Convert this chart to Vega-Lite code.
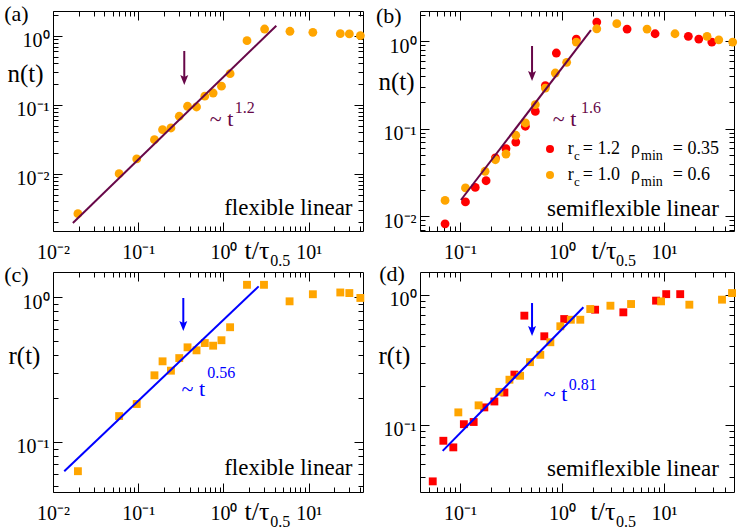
{
"$schema": "https://vega.github.io/schema/vega-lite/v6.json",
"background": "white",
"padding": {"left": 3, "top": 2, "right": 2, "bottom": 2},
"config": {
  "view": {"stroke": "#000", "strokeWidth": 1},
  "axis": {"labelFont": "Liberation Serif", "titleFont": "Liberation Serif", "labelColor": "#000", "titleColor": "#000", "tickColor": "#000", "tickWidth": 1, "domain": false, "grid": false, "titleFontWeight": "normal", "labelFlush": false, "labelOverlap": false, "titlePadding": 0},
  "mark": {"font": "Liberation Serif"},
  "text": {"font": "Liberation Serif"},
  "legend": {"labelFont": "Liberation Serif"}
},
"datasets": {
  "a": [{"t":0.0196,"n":0.00266},{"t":0.0597,"n":0.0101},{"t":0.096,"n":0.0165},{"t":0.155,"n":0.0314},{"t":0.193,"n":0.0438},{"t":0.242,"n":0.0464},{"t":0.303,"n":0.0686},{"t":0.379,"n":0.0957},{"t":0.483,"n":0.0935},{"t":0.604,"n":0.134},{"t":0.757,"n":0.149},{"t":0.948,"n":0.187},{"t":1.197,"n":0.284},{"t":1.89,"n":0.855},{"t":3.04,"n":1.26},{"t":6.03,"n":1.17},{"t":11.2,"n":1.13},{"t":23.5,"n":1.08},{"t":30.0,"n":1.07},{"t":40.4,"n":1.01}],
  "b": [{"s":"rc=1.2","t":0.0713,"n":0.0082},{"s":"rc=1.2","t":0.113,"n":0.0146},{"s":"rc=1.2","t":0.141,"n":0.0214},{"s":"rc=1.2","t":0.18,"n":0.0255},{"s":"rc=1.2","t":0.222,"n":0.0464},{"s":"rc=1.2","t":0.282,"n":0.0593},{"s":"rc=1.2","t":0.352,"n":0.0706},{"s":"rc=1.2","t":0.437,"n":0.107},{"s":"rc=1.2","t":0.547,"n":0.158},{"s":"rc=1.2","t":0.686,"n":0.311},{"s":"rc=1.2","t":0.879,"n":0.735},{"s":"rc=1.2","t":1.38,"n":1.06},{"s":"rc=1.2","t":2.19,"n":1.66},{"s":"rc=1.2","t":4.34,"n":1.38},{"s":"rc=1.2","t":8.17,"n":1.22},{"s":"rc=1.2","t":17.3,"n":1.14},{"s":"rc=1.2","t":21.9,"n":1.06},{"s":"rc=1.2","t":29.4,"n":0.98},
        {"s":"rc=1.0","t":0.0713,"n":0.0152},{"s":"rc=1.0","t":0.113,"n":0.0211},{"s":"rc=1.0","t":0.176,"n":0.0327},{"s":"rc=1.0","t":0.222,"n":0.0443},{"s":"rc=1.0","t":0.282,"n":0.0515},{"s":"rc=1.0","t":0.352,"n":0.0843},{"s":"rc=1.0","t":0.437,"n":0.1165},{"s":"rc=1.0","t":0.547,"n":0.189},{"s":"rc=1.0","t":0.686,"n":0.292},{"s":"rc=1.0","t":0.859,"n":0.434},{"s":"rc=1.0","t":1.11,"n":0.575},{"s":"rc=1.0","t":1.38,"n":0.98},{"s":"rc=1.0","t":2.19,"n":1.39},{"s":"rc=1.0","t":3.44,"n":1.59},{"s":"rc=1.0","t":6.81,"n":1.38},{"s":"rc=1.0","t":12.8,"n":1.22},{"s":"rc=1.0","t":26.4,"n":1.14},{"s":"rc=1.0","t":34.4,"n":1.04},{"s":"rc=1.0","t":47.1,"n":0.98}],
  "c": [{"t":0.0196,"r":0.0628},{"t":0.0597,"r":0.151},{"t":0.096,"r":0.183},{"t":0.155,"r":0.289},{"t":0.193,"r":0.361},{"t":0.242,"r":0.311},{"t":0.303,"r":0.38},{"t":0.379,"r":0.451},{"t":0.483,"r":0.43},{"t":0.604,"r":0.483},{"t":0.757,"r":0.463},{"t":0.948,"r":0.505},{"t":1.197,"r":0.621},{"t":1.89,"r":1.22},{"t":2.99,"r":1.22},{"t":5.97,"r":0.938},{"t":11.2,"r":1.05},{"t":23.5,"r":1.08},{"t":30.0,"r":1.07},{"t":40.4,"r":0.99}],
  "d": [{"s":"rc=1.2","t":0.054,"r":0.0367},{"s":"rc=1.2","t":0.0686,"r":0.0753},{"s":"rc=1.2","t":0.0859,"r":0.067},{"s":"rc=1.2","t":0.109,"r":0.101},{"s":"rc=1.2","t":0.136,"r":0.105},{"s":"rc=1.2","t":0.173,"r":0.136},{"s":"rc=1.2","t":0.217,"r":0.151},{"s":"rc=1.2","t":0.272,"r":0.177},{"s":"rc=1.2","t":0.341,"r":0.243},{"s":"rc=1.2","t":0.427,"r":0.69},{"s":"rc=1.2","t":0.67,"r":0.479},{"s":"rc=1.2","t":1.05,"r":0.65},{"s":"rc=1.2","t":2.11,"r":0.767},{"s":"rc=1.2","t":3.99,"r":0.732},{"s":"rc=1.2","t":8.35,"r":0.9},{"s":"rc=1.2","t":10.5,"r":1.01},{"s":"rc=1.2","t":14.4,"r":1.01},
        {"s":"rc=1.0","t":0.0962,"r":0.1245},{"s":"rc=1.0","t":0.152,"r":0.141},{"s":"rc=1.0","t":0.243,"r":0.179},{"s":"rc=1.0","t":0.305,"r":0.222},{"s":"rc=1.0","t":0.388,"r":0.238},{"s":"rc=1.0","t":0.485,"r":0.303},{"s":"rc=1.0","t":0.612,"r":0.345},{"s":"rc=1.0","t":0.768,"r":0.431},{"s":"rc=1.0","t":0.962,"r":0.572},{"s":"rc=1.0","t":1.22,"r":0.642},{"s":"rc=1.0","t":1.51,"r":0.642},{"s":"rc=1.0","t":1.89,"r":0.776},{"s":"rc=1.0","t":2.98,"r":0.823},{"s":"rc=1.0","t":4.75,"r":0.848},{"s":"rc=1.0","t":9.35,"r":0.889},{"s":"rc=1.0","t":17.7,"r":0.838},{"s":"rc=1.0","t":37.0,"r":0.916},{"s":"rc=1.0","t":46.4,"r":1.03}],
  "fa": [{"t":0.0171,"n":0.00195},{"t":4.17,"n":1.41}],
  "fb": [{"t":0.102,"n":0.01535},{"t":1.92,"n":1.34}],
  "fc": [{"t":0.01355,"r":0.0628},{"t":2.59,"r":1.19}],
  "fd": [{"t":0.0676,"r":0.063},{"t":1.62,"r":0.8}]
},
"columns": 2,
"spacing": {"row": 41, "column": 57},
"bounds": "flush",
"resolve": {"scale": {"color": "independent"}, "legend": {"color": "independent"}},
"concat": [
{
  "width": 310, "height": 220,
  "resolve": {"axis": {"x": "independent", "y": "independent"}},
  "layer": [
    {"data": {"name": "a"}, "mark": {"type": "circle", "size": 78, "color": "#ffa500", "opacity": 1},
     "encoding": {
       "x": {"field": "t", "type": "quantitative", "scale": {"type": "log", "domain": [0.01, 43.4], "nice": false},
             "axis": {"orient": "bottom", "values": [0.01, 0.1, 1, 10], "tickSize": -9, "labelExpr": "datum.value < 0.05 ? '10⁻²' : datum.value < 0.5 ? '10⁻¹' : datum.value < 5 ? '10⁰' : '10¹'", "labelFontSize": 20, "labelBaseline": "alphabetic", "labelAlign": "center", "labelPadding": 36, "title": "t/τ", "titleFontSize": 26, "titleX": 191, "titleY": 27, "titleAlign": "left", "titleBaseline": "alphabetic", "titleAnchor": "start"}},
       "y": {"field": "n", "type": "quantitative", "scale": {"type": "log", "domain": [0.00149, 2.3], "nice": false},
             "axis": {"orient": "left", "values": [0.01, 0.1, 1], "tickSize": -9, "labelExpr": "datum.value < 0.05 ? '10⁻²' : datum.value < 0.5 ? '10⁻¹' : datum.value < 5 ? '10⁰' : '10¹'", "labelFontSize": 20, "labelAlign": "right", "labelBaseline": "alphabetic", "labelOffset": 11, "labelPadding": 13, "title": "n(t)", "titleFontSize": 25, "titleAngle": 0, "titleX": -46, "titleY": 62, "titleAlign": "left", "titleBaseline": "middle"}}}},
    {"data": {"name": "fa"}, "mark": {"type": "line", "color": "#670748", "strokeWidth": 2},
     "encoding": {
       "x": {"field": "t", "type": "quantitative", "scale": {"type": "log", "domain": [0.01, 43.4], "nice": false},
             "axis": {"orient": "bottom", "values": [0.02,0.03,0.04,0.05,0.06,0.07,0.08,0.09,0.2,0.3,0.4,0.5,0.6,0.7,0.8,0.9,2,3,4,5,6,7,8,9,20,30,40], "tickSize": -5, "labels": false, "title": null}},
       "y": {"field": "n", "type": "quantitative", "scale": {"type": "log", "domain": [0.00149, 2.3], "nice": false},
             "axis": {"orient": "left", "values": [0.002,0.003,0.004,0.005,0.006,0.007,0.008,0.009,0.02,0.03,0.04,0.05,0.06,0.07,0.08,0.09,0.2,0.3,0.4,0.5,0.6,0.7,0.8,0.9,2], "tickSize": -5, "labels": false, "title": null}}}},
    {"data": {"values": [{"label": "arrow"}]}, "mark": {"type": "rule", "color": "#670748", "strokeWidth": 2},
     "encoding": {
       "x": {"datum": 0.347, "type": "quantitative", "scale": {"type": "log", "domain": [0.01, 43.4], "nice": false},
             "axis": {"orient": "top", "values": [0.01, 0.1, 1, 10], "tickSize": -9, "labels": false, "title": null}},
       "y": {"datum": 0.606, "type": "quantitative", "scale": {"type": "log", "domain": [0.00149, 2.3], "nice": false},
             "axis": {"orient": "right", "values": [0.01, 0.1, 1], "tickSize": -9, "labels": false, "title": null}},
       "y2": {"datum": 0.23}}},
    {"data": {"values": [{"label": "arrowhead"}]}, "mark": {"type": "point", "shape": "M0,0L-0.4,-1L0,-0.8L0.4,-1Z", "size": 400, "filled": true, "color": "#670748", "opacity": 1, "strokeWidth": 0},
     "encoding": {
       "x": {"datum": 0.347, "type": "quantitative", "scale": {"type": "log", "domain": [0.01, 43.4], "nice": false},
             "axis": {"orient": "top", "values": [0.02,0.03,0.04,0.05,0.06,0.07,0.08,0.09,0.2,0.3,0.4,0.5,0.6,0.7,0.8,0.9,2,3,4,5,6,7,8,9,20,30,40], "tickSize": -5, "labels": false, "title": null}},
       "y": {"datum": 0.195, "type": "quantitative", "scale": {"type": "log", "domain": [0.00149, 2.3], "nice": false},
             "axis": {"orient": "right", "values": [0.002,0.003,0.004,0.005,0.006,0.007,0.008,0.009,0.02,0.03,0.04,0.05,0.06,0.07,0.08,0.09,0.2,0.3,0.4,0.5,0.6,0.7,0.8,0.9,2], "tickSize": -5, "labels": false, "title": null}}}},
    {"data": {"values": [{"label": "~ t"}]}, "mark": {"type": "text", "font": "Liberation Serif", "fontSize": 22, "color": "#670748", "align": "left", "baseline": "alphabetic"},
     "encoding": {"x": {"datum": 0.692, "type": "quantitative", "scale": {"type": "log", "domain": [0.01, 43.4], "nice": false}, "axis": null},
                  "y": {"datum": 0.0501, "type": "quantitative", "scale": {"type": "log", "domain": [0.00149, 2.3], "nice": false}, "axis": null},
                  "text": {"field": "label"}}},
    {"data": {"values": [{"label": "1.2"}]}, "mark": {"type": "text", "font": "Liberation Serif", "fontSize": 16, "color": "#670748", "align": "left", "baseline": "alphabetic"},
     "encoding": {"x": {"datum": 1.356, "type": "quantitative", "scale": {"type": "log", "domain": [0.01, 43.4], "nice": false}, "axis": null},
                  "y": {"datum": 0.0766, "type": "quantitative", "scale": {"type": "log", "domain": [0.00149, 2.3], "nice": false}, "axis": null},
                  "text": {"field": "label"}}},
    {"data": {"values": [{"label": "flexible linear"}]}, "mark": {"type": "text", "font": "Liberation Serif", "fontSize": 23, "color": "#000", "align": "left", "baseline": "alphabetic"},
     "encoding": {"x": {"datum": 1.02, "type": "quantitative", "scale": {"type": "log", "domain": [0.01, 43.4], "nice": false}, "axis": null},
                  "y": {"datum": 0.00257, "type": "quantitative", "scale": {"type": "log", "domain": [0.00149, 2.3], "nice": false}, "axis": null},
                  "text": {"field": "label"}}},
    {"data": {"values": [{"label": "(a)"}]}, "mark": {"type": "text", "font": "Liberation Serif", "fontSize": 22, "color": "#000", "align": "left", "baseline": "alphabetic"},
     "encoding": {"x": {"datum": 0.00268, "type": "quantitative", "scale": {"type": "log", "domain": [0.01, 43.4], "nice": false}, "axis": null},
                  "y": {"datum": 1.633, "type": "quantitative", "scale": {"type": "log", "domain": [0.00149, 2.3], "nice": false}, "axis": null},
                  "text": {"field": "label"}}},
    {"data": {"values": [{"label": "0.5"}]}, "mark": {"type": "text", "font": "Liberation Serif", "fontSize": 16, "color": "#000", "align": "left", "baseline": "alphabetic", "dy": 35},
     "encoding": {"x": {"datum": 3.55, "type": "quantitative", "scale": {"type": "log", "domain": [0.01, 43.4], "nice": false}, "axis": null},
                  "y": {"datum": 0.00149, "type": "quantitative", "scale": {"type": "log", "domain": [0.00149, 2.3], "nice": false}, "axis": null},
                  "text": {"field": "label"}}}
  ]
},
{
  "width": 314, "height": 220,
  "resolve": {"axis": {"x": "independent", "y": "independent"}},
  "layer": [
    {"data": {"name": "b"}, "mark": {"type": "circle", "size": 78, "opacity": 1},
     "encoding": {
       "x": {"field": "t", "type": "quantitative", "scale": {"type": "log", "domain": [0.0405, 48.5], "nice": false},
             "axis": {"orient": "bottom", "values": [0.1, 1, 10], "tickSize": -9, "labelExpr": "datum.value < 0.05 ? '10⁻²' : datum.value < 0.5 ? '10⁻¹' : datum.value < 5 ? '10⁰' : '10¹'", "labelFontSize": 20, "labelBaseline": "alphabetic", "labelAlign": "center", "labelPadding": 36, "title": "t/τ", "titleFontSize": 26, "titleX": 171, "titleY": 27, "titleAlign": "left", "titleBaseline": "alphabetic", "titleAnchor": "start"}},
       "y": {"field": "n", "type": "quantitative", "scale": {"type": "log", "domain": [0.00679, 2.22], "nice": false},
             "axis": {"orient": "left", "values": [0.01, 0.1, 1], "tickSize": -9, "labelExpr": "datum.value < 0.05 ? '10⁻²' : datum.value < 0.5 ? '10⁻¹' : datum.value < 5 ? '10⁰' : '10¹'", "labelFontSize": 20, "labelAlign": "right", "labelBaseline": "alphabetic", "labelOffset": 11, "labelPadding": 13, "title": "n(t)", "titleFontSize": 25, "titleAngle": 0, "titleX": -42, "titleY": 70, "titleAlign": "left", "titleBaseline": "middle"}},
       "color": {"field": "s", "type": "nominal", "scale": {"domain": ["rc=1.2", "rc=1.0"], "range": ["#ff0000", "#ffa500"]},
                 "legend": {"orient": "none", "legendX": 126, "legendY": 134, "title": null, "labelExpr": "''", "labelFontSize": 1, "symbolType": "circle", "symbolSize": 64, "symbolStrokeWidth": 0, "symbolOpacity": 1, "rowPadding": 18, "padding": 0}}}},
    {"data": {"name": "fb"}, "mark": {"type": "line", "color": "#670748", "strokeWidth": 2},
     "encoding": {
       "x": {"field": "t", "type": "quantitative", "scale": {"type": "log", "domain": [0.0405, 48.5], "nice": false},
             "axis": {"orient": "bottom", "values": [0.05,0.06,0.07,0.08,0.09,0.2,0.3,0.4,0.5,0.6,0.7,0.8,0.9,2,3,4,5,6,7,8,9,20,30,40], "tickSize": -5, "labels": false, "title": null}},
       "y": {"field": "n", "type": "quantitative", "scale": {"type": "log", "domain": [0.00679, 2.22], "nice": false},
             "axis": {"orient": "left", "values": [0.007,0.008,0.009,0.02,0.03,0.04,0.05,0.06,0.07,0.08,0.09,0.2,0.3,0.4,0.5,0.6,0.7,0.8,0.9,2], "tickSize": -5, "labels": false, "title": null}}}},
    {"data": {"values": [{"label": "arrow"}]}, "mark": {"type": "rule", "color": "#670748", "strokeWidth": 2},
     "encoding": {
       "x": {"datum": 0.508, "type": "quantitative", "scale": {"type": "log", "domain": [0.0405, 48.5], "nice": false},
             "axis": {"orient": "top", "values": [0.1, 1, 10], "tickSize": -9, "labels": false, "title": null}},
       "y": {"datum": 0.884, "type": "quantitative", "scale": {"type": "log", "domain": [0.00679, 2.22], "nice": false},
             "axis": {"orient": "right", "values": [0.01, 0.1, 1], "tickSize": -9, "labels": false, "title": null}},
       "y2": {"datum": 0.401}}},
    {"data": {"values": [{"label": "arrowhead"}]}, "mark": {"type": "point", "shape": "M0,0L-0.4,-1L0,-0.8L0.4,-1Z", "size": 400, "filled": true, "color": "#670748", "opacity": 1, "strokeWidth": 0},
     "encoding": {
       "x": {"datum": 0.508, "type": "quantitative", "scale": {"type": "log", "domain": [0.0405, 48.5], "nice": false},
             "axis": {"orient": "top", "values": [0.05,0.06,0.07,0.08,0.09,0.2,0.3,0.4,0.5,0.6,0.7,0.8,0.9,2,3,4,5,6,7,8,9,20,30,40], "tickSize": -5, "labels": false, "title": null}},
       "y": {"datum": 0.352, "type": "quantitative", "scale": {"type": "log", "domain": [0.00679, 2.22], "nice": false},
             "axis": {"orient": "right", "values": [0.007,0.008,0.009,0.02,0.03,0.04,0.05,0.06,0.07,0.08,0.09,0.2,0.3,0.4,0.5,0.6,0.7,0.8,0.9,2], "tickSize": -5, "labels": false, "title": null}}}},
    {"data": {"values": [{"label": "~ t"}]}, "mark": {"type": "text", "font": "Liberation Serif", "fontSize": 22, "color": "#670748", "align": "left", "baseline": "alphabetic"},
     "encoding": {"x": {"datum": 0.811, "type": "quantitative", "scale": {"type": "log", "domain": [0.0405, 48.5], "nice": false}, "axis": null},
                  "y": {"datum": 0.1076, "type": "quantitative", "scale": {"type": "log", "domain": [0.00679, 2.22], "nice": false}, "axis": null},
                  "text": {"field": "label"}}},
    {"data": {"values": [{"label": "1.6"}]}, "mark": {"type": "text", "font": "Liberation Serif", "fontSize": 16, "color": "#670748", "align": "left", "baseline": "alphabetic"},
     "encoding": {"x": {"datum": 1.536, "type": "quantitative", "scale": {"type": "log", "domain": [0.0405, 48.5], "nice": false}, "axis": null},
                  "y": {"datum": 0.1516, "type": "quantitative", "scale": {"type": "log", "domain": [0.00679, 2.22], "nice": false}, "axis": null},
                  "text": {"field": "label"}}},
    {"data": {"values": [{"label": "semiflexible linear"}]}, "mark": {"type": "text", "font": "Liberation Serif", "fontSize": 23, "color": "#000", "align": "left", "baseline": "alphabetic"},
     "encoding": {"x": {"datum": 0.713, "type": "quantitative", "scale": {"type": "log", "domain": [0.0405, 48.5], "nice": false}, "axis": null},
                  "y": {"datum": 0.01, "type": "quantitative", "scale": {"type": "log", "domain": [0.00679, 2.22], "nice": false}, "axis": null},
                  "text": {"field": "label"}}},
    {"data": {"values": [{"label": "(b)"}]}, "mark": {"type": "text", "font": "Liberation Serif", "fontSize": 22, "color": "#000", "align": "left", "baseline": "alphabetic"},
     "encoding": {"x": {"datum": 0.015, "type": "quantitative", "scale": {"type": "log", "domain": [0.0405, 48.5], "nice": false}, "axis": null},
                  "y": {"datum": 1.618, "type": "quantitative", "scale": {"type": "log", "domain": [0.00679, 2.22], "nice": false}, "axis": null},
                  "text": {"field": "label"}}},
    {"data": {"values": [{"label": "0.5"}]}, "mark": {"type": "text", "font": "Liberation Serif", "fontSize": 16, "color": "#000", "align": "left", "baseline": "alphabetic", "dy": 35},
     "encoding": {"x": {"datum": 3.38, "type": "quantitative", "scale": {"type": "log", "domain": [0.0405, 48.5], "nice": false}, "axis": null},
                  "y": {"datum": 0.00679, "type": "quantitative", "scale": {"type": "log", "domain": [0.00679, 2.22], "nice": false}, "axis": null},
                  "text": {"field": "label"}}},
    {"data": {"values": [{"label": "r"}]}, "mark": {"type": "text", "font": "Liberation Serif", "fontSize": 18, "color": "#000", "align": "left", "baseline": "alphabetic"},
     "encoding": {"x": {"datum": 1.137, "type": "quantitative", "scale": {"type": "log", "domain": [0.0405, 48.5], "nice": false}, "axis": null},
                  "y": {"datum": 0.0519, "type": "quantitative", "scale": {"type": "log", "domain": [0.00679, 2.22], "nice": false}, "axis": null},
                  "text": {"field": "label"}}},
    {"data": {"values": [{"label": "c"}]}, "mark": {"type": "text", "font": "Liberation Serif", "fontSize": 13, "color": "#000", "align": "left", "baseline": "alphabetic", "dy": 6},
     "encoding": {"x": {"datum": 1.311, "type": "quantitative", "scale": {"type": "log", "domain": [0.0405, 48.5], "nice": false}, "axis": null},
                  "y": {"datum": 0.0519, "type": "quantitative", "scale": {"type": "log", "domain": [0.00679, 2.22], "nice": false}, "axis": null},
                  "text": {"field": "label"}}},
    {"data": {"values": [{"label": "= 1.2"}]}, "mark": {"type": "text", "font": "Liberation Serif", "fontSize": 18, "color": "#000", "align": "left", "baseline": "alphabetic"},
     "encoding": {"x": {"datum": 1.596, "type": "quantitative", "scale": {"type": "log", "domain": [0.0405, 48.5], "nice": false}, "axis": null},
                  "y": {"datum": 0.0519, "type": "quantitative", "scale": {"type": "log", "domain": [0.00679, 2.22], "nice": false}, "axis": null},
                  "text": {"field": "label"}}},
    {"data": {"values": [{"label": "ρ"}]}, "mark": {"type": "text", "font": "Liberation Serif", "fontSize": 18, "color": "#000", "align": "left", "baseline": "alphabetic"},
     "encoding": {"x": {"datum": 4.75, "type": "quantitative", "scale": {"type": "log", "domain": [0.0405, 48.5], "nice": false}, "axis": null},
                  "y": {"datum": 0.0519, "type": "quantitative", "scale": {"type": "log", "domain": [0.00679, 2.22], "nice": false}, "axis": null},
                  "text": {"field": "label"}}},
    {"data": {"values": [{"label": "min"}]}, "mark": {"type": "text", "font": "Liberation Serif", "fontSize": 14, "color": "#000", "align": "left", "baseline": "alphabetic", "dy": 6},
     "encoding": {"x": {"datum": 5.95, "type": "quantitative", "scale": {"type": "log", "domain": [0.0405, 48.5], "nice": false}, "axis": null},
                  "y": {"datum": 0.0519, "type": "quantitative", "scale": {"type": "log", "domain": [0.00679, 2.22], "nice": false}, "axis": null},
                  "text": {"field": "label"}}},
    {"data": {"values": [{"label": "= 0.35"}]}, "mark": {"type": "text", "font": "Liberation Serif", "fontSize": 18, "color": "#000", "align": "left", "baseline": "alphabetic"},
     "encoding": {"x": {"datum": 12.17, "type": "quantitative", "scale": {"type": "log", "domain": [0.0405, 48.5], "nice": false}, "axis": null},
                  "y": {"datum": 0.0519, "type": "quantitative", "scale": {"type": "log", "domain": [0.00679, 2.22], "nice": false}, "axis": null},
                  "text": {"field": "label"}}},
    {"data": {"values": [{"label": "r"}]}, "mark": {"type": "text", "font": "Liberation Serif", "fontSize": 18, "color": "#000", "align": "left", "baseline": "alphabetic"},
     "encoding": {"x": {"datum": 1.137, "type": "quantitative", "scale": {"type": "log", "domain": [0.0405, 48.5], "nice": false}, "axis": null},
                  "y": {"datum": 0.0262, "type": "quantitative", "scale": {"type": "log", "domain": [0.00679, 2.22], "nice": false}, "axis": null},
                  "text": {"field": "label"}}},
    {"data": {"values": [{"label": "c"}]}, "mark": {"type": "text", "font": "Liberation Serif", "fontSize": 13, "color": "#000", "align": "left", "baseline": "alphabetic", "dy": 6},
     "encoding": {"x": {"datum": 1.311, "type": "quantitative", "scale": {"type": "log", "domain": [0.0405, 48.5], "nice": false}, "axis": null},
                  "y": {"datum": 0.0262, "type": "quantitative", "scale": {"type": "log", "domain": [0.00679, 2.22], "nice": false}, "axis": null},
                  "text": {"field": "label"}}},
    {"data": {"values": [{"label": "= 1.0"}]}, "mark": {"type": "text", "font": "Liberation Serif", "fontSize": 18, "color": "#000", "align": "left", "baseline": "alphabetic"},
     "encoding": {"x": {"datum": 1.596, "type": "quantitative", "scale": {"type": "log", "domain": [0.0405, 48.5], "nice": false}, "axis": null},
                  "y": {"datum": 0.0262, "type": "quantitative", "scale": {"type": "log", "domain": [0.00679, 2.22], "nice": false}, "axis": null},
                  "text": {"field": "label"}}},
    {"data": {"values": [{"label": "ρ"}]}, "mark": {"type": "text", "font": "Liberation Serif", "fontSize": 18, "color": "#000", "align": "left", "baseline": "alphabetic"},
     "encoding": {"x": {"datum": 4.75, "type": "quantitative", "scale": {"type": "log", "domain": [0.0405, 48.5], "nice": false}, "axis": null},
                  "y": {"datum": 0.0262, "type": "quantitative", "scale": {"type": "log", "domain": [0.00679, 2.22], "nice": false}, "axis": null},
                  "text": {"field": "label"}}},
    {"data": {"values": [{"label": "min"}]}, "mark": {"type": "text", "font": "Liberation Serif", "fontSize": 14, "color": "#000", "align": "left", "baseline": "alphabetic", "dy": 6},
     "encoding": {"x": {"datum": 5.95, "type": "quantitative", "scale": {"type": "log", "domain": [0.0405, 48.5], "nice": false}, "axis": null},
                  "y": {"datum": 0.0262, "type": "quantitative", "scale": {"type": "log", "domain": [0.00679, 2.22], "nice": false}, "axis": null},
                  "text": {"field": "label"}}},
    {"data": {"values": [{"label": "= 0.6"}]}, "mark": {"type": "text", "font": "Liberation Serif", "fontSize": 18, "color": "#000", "align": "left", "baseline": "alphabetic"},
     "encoding": {"x": {"datum": 12.17, "type": "quantitative", "scale": {"type": "log", "domain": [0.0405, 48.5], "nice": false}, "axis": null},
                  "y": {"datum": 0.0262, "type": "quantitative", "scale": {"type": "log", "domain": [0.00679, 2.22], "nice": false}, "axis": null},
                  "text": {"field": "label"}}}
  ]
},
{
  "width": 310, "height": 220,
  "resolve": {"axis": {"x": "independent", "y": "independent"}},
  "layer": [
    {"data": {"name": "c"}, "mark": {"type": "square", "size": 62, "color": "#ffa500", "opacity": 1},
     "encoding": {
       "x": {"field": "t", "type": "quantitative", "scale": {"type": "log", "domain": [0.01, 43.4], "nice": false},
             "axis": {"orient": "bottom", "values": [0.01, 0.1, 1, 10], "tickSize": -9, "labelExpr": "datum.value < 0.05 ? '10⁻²' : datum.value < 0.5 ? '10⁻¹' : datum.value < 5 ? '10⁰' : '10¹'", "labelFontSize": 20, "labelBaseline": "alphabetic", "labelAlign": "center", "labelPadding": 36, "title": "t/τ", "titleFontSize": 26, "titleX": 191, "titleY": 27, "titleAlign": "left", "titleBaseline": "alphabetic", "titleAnchor": "start"}},
       "y": {"field": "r", "type": "quantitative", "scale": {"type": "log", "domain": [0.0451, 1.496], "nice": false},
             "axis": {"orient": "left", "values": [0.1, 1], "tickSize": -9, "labelExpr": "datum.value < 0.05 ? '10⁻²' : datum.value < 0.5 ? '10⁻¹' : datum.value < 5 ? '10⁰' : '10¹'", "labelFontSize": 20, "labelAlign": "right", "labelBaseline": "alphabetic", "labelOffset": 11, "labelPadding": 13, "title": "r(t)", "titleFontSize": 25, "titleAngle": 0, "titleX": -45, "titleY": 83, "titleAlign": "left", "titleBaseline": "middle"}}}},
    {"data": {"name": "fc"}, "mark": {"type": "line", "color": "#0000ff", "strokeWidth": 2},
     "encoding": {
       "x": {"field": "t", "type": "quantitative", "scale": {"type": "log", "domain": [0.01, 43.4], "nice": false},
             "axis": {"orient": "bottom", "values": [0.02,0.03,0.04,0.05,0.06,0.07,0.08,0.09,0.2,0.3,0.4,0.5,0.6,0.7,0.8,0.9,2,3,4,5,6,7,8,9,20,30,40], "tickSize": -5, "labels": false, "title": null}},
       "y": {"field": "r", "type": "quantitative", "scale": {"type": "log", "domain": [0.0451, 1.496], "nice": false},
             "axis": {"orient": "left", "values": [0.05,0.06,0.07,0.08,0.09,0.2,0.3,0.4,0.5,0.6,0.7,0.8,0.9], "tickSize": -5, "labels": false, "title": null}}}},
    {"data": {"values": [{"label": "arrow"}]}, "mark": {"type": "rule", "color": "#0000ff", "strokeWidth": 2},
     "encoding": {
       "x": {"datum": 0.338, "type": "quantitative", "scale": {"type": "log", "domain": [0.01, 43.4], "nice": false},
             "axis": {"orient": "top", "values": [0.01, 0.1, 1, 10], "tickSize": -9, "labels": false, "title": null}},
       "y": {"datum": 0.989, "type": "quantitative", "scale": {"type": "log", "domain": [0.0451, 1.496], "nice": false},
             "axis": {"orient": "right", "values": [0.1, 1], "tickSize": -9, "labels": false, "title": null}},
       "y2": {"datum": 0.633}}},
    {"data": {"values": [{"label": "arrowhead"}]}, "mark": {"type": "point", "shape": "M0,0L-0.4,-1L0,-0.8L0.4,-1Z", "size": 400, "filled": true, "color": "#0000ff", "opacity": 1, "strokeWidth": 0},
     "encoding": {
       "x": {"datum": 0.338, "type": "quantitative", "scale": {"type": "log", "domain": [0.01, 43.4], "nice": false},
             "axis": {"orient": "top", "values": [0.02,0.03,0.04,0.05,0.06,0.07,0.08,0.09,0.2,0.3,0.4,0.5,0.6,0.7,0.8,0.9,2,3,4,5,6,7,8,9,20,30,40], "tickSize": -5, "labels": false, "title": null}},
       "y": {"datum": 0.585, "type": "quantitative", "scale": {"type": "log", "domain": [0.0451, 1.496], "nice": false},
             "axis": {"orient": "right", "values": [0.05,0.06,0.07,0.08,0.09,0.2,0.3,0.4,0.5,0.6,0.7,0.8,0.9], "tickSize": -5, "labels": false, "title": null}}}},
    {"data": {"values": [{"label": "~ t"}]}, "mark": {"type": "text", "font": "Liberation Serif", "fontSize": 22, "color": "#0000ff", "align": "left", "baseline": "alphabetic"},
     "encoding": {"x": {"datum": 0.323, "type": "quantitative", "scale": {"type": "log", "domain": [0.01, 43.4], "nice": false}, "axis": null},
                  "y": {"datum": 0.207, "type": "quantitative", "scale": {"type": "log", "domain": [0.0451, 1.496], "nice": false}, "axis": null},
                  "text": {"field": "label"}}},
    {"data": {"values": [{"label": "0.56"}]}, "mark": {"type": "text", "font": "Liberation Serif", "fontSize": 16, "color": "#0000ff", "align": "left", "baseline": "alphabetic"},
     "encoding": {"x": {"datum": 0.644, "type": "quantitative", "scale": {"type": "log", "domain": [0.01, 43.4], "nice": false}, "axis": null},
                  "y": {"datum": 0.2768, "type": "quantitative", "scale": {"type": "log", "domain": [0.0451, 1.496], "nice": false}, "axis": null},
                  "text": {"field": "label"}}},
    {"data": {"values": [{"label": "flexible linear"}]}, "mark": {"type": "text", "font": "Liberation Serif", "fontSize": 23, "color": "#000", "align": "left", "baseline": "alphabetic"},
     "encoding": {"x": {"datum": 1.02, "type": "quantitative", "scale": {"type": "log", "domain": [0.01, 43.4], "nice": false}, "axis": null},
                  "y": {"datum": 0.0589, "type": "quantitative", "scale": {"type": "log", "domain": [0.0451, 1.496], "nice": false}, "axis": null},
                  "text": {"field": "label"}}},
    {"data": {"values": [{"label": "(c)"}]}, "mark": {"type": "text", "font": "Liberation Serif", "fontSize": 22, "color": "#000", "align": "left", "baseline": "alphabetic"},
     "encoding": {"x": {"datum": 0.00268, "type": "quantitative", "scale": {"type": "log", "domain": [0.01, 43.4], "nice": false}, "axis": null},
                  "y": {"datum": 1.276, "type": "quantitative", "scale": {"type": "log", "domain": [0.0451, 1.496], "nice": false}, "axis": null},
                  "text": {"field": "label"}}},
    {"data": {"values": [{"label": "0.5"}]}, "mark": {"type": "text", "font": "Liberation Serif", "fontSize": 16, "color": "#000", "align": "left", "baseline": "alphabetic", "dy": 35},
     "encoding": {"x": {"datum": 3.55, "type": "quantitative", "scale": {"type": "log", "domain": [0.01, 43.4], "nice": false}, "axis": null},
                  "y": {"datum": 0.0451, "type": "quantitative", "scale": {"type": "log", "domain": [0.0451, 1.496], "nice": false}, "axis": null},
                  "text": {"field": "label"}}}
  ]
},
{
  "width": 314, "height": 220,
  "resolve": {"axis": {"x": "independent", "y": "independent"}},
  "layer": [
    {"data": {"name": "d"}, "mark": {"type": "square", "size": 62, "opacity": 1},
     "encoding": {
       "x": {"field": "t", "type": "quantitative", "scale": {"type": "log", "domain": [0.0405, 48.5], "nice": false},
             "axis": {"orient": "bottom", "values": [0.1, 1, 10], "tickSize": -9, "labelExpr": "datum.value < 0.05 ? '10⁻²' : datum.value < 0.5 ? '10⁻¹' : datum.value < 5 ? '10⁰' : '10¹'", "labelFontSize": 20, "labelBaseline": "alphabetic", "labelAlign": "center", "labelPadding": 36, "title": "t/τ", "titleFontSize": 26, "titleX": 170, "titleY": 27, "titleAlign": "left", "titleBaseline": "alphabetic", "titleAnchor": "start"}},
       "y": {"field": "r", "type": "quantitative", "scale": {"type": "log", "domain": [0.0304, 1.495], "nice": false},
             "axis": {"orient": "left", "values": [0.1, 1], "tickSize": -9, "labelExpr": "datum.value < 0.05 ? '10⁻²' : datum.value < 0.5 ? '10⁻¹' : datum.value < 5 ? '10⁰' : '10¹'", "labelFontSize": 20, "labelAlign": "right", "labelBaseline": "alphabetic", "labelOffset": 11, "labelPadding": 13, "title": "r(t)", "titleFontSize": 25, "titleAngle": 0, "titleX": -42, "titleY": 83, "titleAlign": "left", "titleBaseline": "middle"}},
       "color": {"field": "s", "type": "nominal", "scale": {"domain": ["rc=1.2", "rc=1.0"], "range": ["#ff0000", "#ffa500"]}, "legend": null}}},
    {"data": {"name": "fd"}, "mark": {"type": "line", "color": "#0000ff", "strokeWidth": 2},
     "encoding": {
       "x": {"field": "t", "type": "quantitative", "scale": {"type": "log", "domain": [0.0405, 48.5], "nice": false},
             "axis": {"orient": "bottom", "values": [0.05,0.06,0.07,0.08,0.09,0.2,0.3,0.4,0.5,0.6,0.7,0.8,0.9,2,3,4,5,6,7,8,9,20,30,40], "tickSize": -5, "labels": false, "title": null}},
       "y": {"field": "r", "type": "quantitative", "scale": {"type": "log", "domain": [0.0304, 1.495], "nice": false},
             "axis": {"orient": "left", "values": [0.04,0.05,0.06,0.07,0.08,0.09,0.2,0.3,0.4,0.5,0.6,0.7,0.8,0.9], "tickSize": -5, "labels": false, "title": null}}}},
    {"data": {"values": [{"label": "arrow"}]}, "mark": {"type": "rule", "color": "#0000ff", "strokeWidth": 2},
     "encoding": {
       "x": {"datum": 0.508, "type": "quantitative", "scale": {"type": "log", "domain": [0.0405, 48.5], "nice": false},
             "axis": {"orient": "top", "values": [0.1, 1, 10], "tickSize": -9, "labels": false, "title": null}},
       "y": {"datum": 0.863, "type": "quantitative", "scale": {"type": "log", "domain": [0.0304, 1.495], "nice": false},
             "axis": {"orient": "right", "values": [0.1, 1], "tickSize": -9, "labels": false, "title": null}},
       "y2": {"datum": 0.526}}},
    {"data": {"values": [{"label": "arrowhead"}]}, "mark": {"type": "point", "shape": "M0,0L-0.4,-1L0,-0.8L0.4,-1Z", "size": 400, "filled": true, "color": "#0000ff", "opacity": 1, "strokeWidth": 0},
     "encoding": {
       "x": {"datum": 0.508, "type": "quantitative", "scale": {"type": "log", "domain": [0.0405, 48.5], "nice": false},
             "axis": {"orient": "top", "values": [0.05,0.06,0.07,0.08,0.09,0.2,0.3,0.4,0.5,0.6,0.7,0.8,0.9,2,3,4,5,6,7,8,9,20,30,40], "tickSize": -5, "labels": false, "title": null}},
       "y": {"datum": 0.481, "type": "quantitative", "scale": {"type": "log", "domain": [0.0304, 1.495], "nice": false},
             "axis": {"orient": "right", "values": [0.04,0.05,0.06,0.07,0.08,0.09,0.2,0.3,0.4,0.5,0.6,0.7,0.8,0.9], "tickSize": -5, "labels": false, "title": null}}}},
    {"data": {"values": [{"label": "~ t"}]}, "mark": {"type": "text", "font": "Liberation Serif", "fontSize": 22, "color": "#0000ff", "align": "left", "baseline": "alphabetic"},
     "encoding": {"x": {"datum": 0.662, "type": "quantitative", "scale": {"type": "log", "domain": [0.0405, 48.5], "nice": false}, "axis": null},
                  "y": {"datum": 0.151, "type": "quantitative", "scale": {"type": "log", "domain": [0.0304, 1.495], "nice": false}, "axis": null},
                  "text": {"field": "label"}}},
    {"data": {"values": [{"label": "0.81"}]}, "mark": {"type": "text", "font": "Liberation Serif", "fontSize": 16, "color": "#0000ff", "align": "left", "baseline": "alphabetic"},
     "encoding": {"x": {"datum": 1.164, "type": "quantitative", "scale": {"type": "log", "domain": [0.0405, 48.5], "nice": false}, "axis": null},
                  "y": {"datum": 0.186, "type": "quantitative", "scale": {"type": "log", "domain": [0.0304, 1.495], "nice": false}, "axis": null},
                  "text": {"field": "label"}}},
    {"data": {"values": [{"label": "semiflexible linear"}]}, "mark": {"type": "text", "font": "Liberation Serif", "fontSize": 23, "color": "#000", "align": "left", "baseline": "alphabetic"},
     "encoding": {"x": {"datum": 0.713, "type": "quantitative", "scale": {"type": "log", "domain": [0.0405, 48.5], "nice": false}, "axis": null},
                  "y": {"datum": 0.0401, "type": "quantitative", "scale": {"type": "log", "domain": [0.0304, 1.495], "nice": false}, "axis": null},
                  "text": {"field": "label"}}},
    {"data": {"values": [{"label": "(d)"}]}, "mark": {"type": "text", "font": "Liberation Serif", "fontSize": 22, "color": "#000", "align": "left", "baseline": "alphabetic"},
     "encoding": {"x": {"datum": 0.0161, "type": "quantitative", "scale": {"type": "log", "domain": [0.0405, 48.5], "nice": false}, "axis": null},
                  "y": {"datum": 1.274, "type": "quantitative", "scale": {"type": "log", "domain": [0.0304, 1.495], "nice": false}, "axis": null},
                  "text": {"field": "label"}}},
    {"data": {"values": [{"label": "0.5"}]}, "mark": {"type": "text", "font": "Liberation Serif", "fontSize": 16, "color": "#000", "align": "left", "baseline": "alphabetic", "dy": 35},
     "encoding": {"x": {"datum": 3.38, "type": "quantitative", "scale": {"type": "log", "domain": [0.0405, 48.5], "nice": false}, "axis": null},
                  "y": {"datum": 0.0304, "type": "quantitative", "scale": {"type": "log", "domain": [0.0304, 1.495], "nice": false}, "axis": null},
                  "text": {"field": "label"}}}
  ]
}
]
}
